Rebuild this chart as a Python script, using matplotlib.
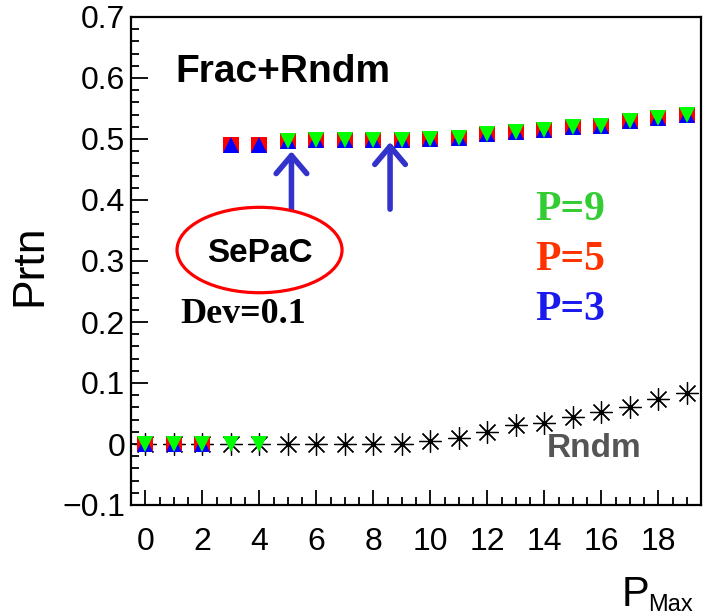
import numpy as np
import matplotlib
matplotlib.use('Agg')
import matplotlib.pyplot as plt
from matplotlib.patches import Ellipse
from matplotlib.ticker import MultipleLocator

# Datos
p_max = np.arange(0, 20)
prtn_p3 = [0.0, 0.0, 0.0, 0.490, 0.490, 0.497, 0.498, 0.498, 0.499, 0.499,
           0.500, 0.502, 0.508, 0.512, 0.515, 0.519, 0.522, 0.529, 0.535, 0.540]
prtn_p5 = [0.0, 0.0, 0.0, 0.490, 0.490, 0.497, 0.498, 0.498, 0.499, 0.499,
           0.500, 0.502, 0.508, 0.512, 0.515, 0.519, 0.522, 0.529, 0.535, 0.540]
prtn_p9 = [0.0, 0.0, 0.0, 0.0, 0.0, 0.497, 0.498, 0.498, 0.499, 0.499,
           0.500, 0.502, 0.508, 0.512, 0.515, 0.519, 0.522, 0.529, 0.535, 0.540]
prtn_rndm = [0.0, 0.0, 0.0, 0.0, 0.0, 0.0, 0.0, 0.0, 0.0, 0.0,
             0.005, 0.010, 0.020, 0.031, 0.035, 0.044, 0.052, 0.060, 0.074, 0.083]

# Flechas (x, punta, base)
arrow_x = [5.13, 8.59]
arrow_tip = [0.480, 0.495]
arrow_base = 0.385

plt.rcParams['font.family'] = ['Liberation Sans', 'DejaVu Sans']
serif = ['Liberation Serif', 'DejaVu Serif']

fig = plt.figure(figsize=(7.06, 6.16), dpi=100)
ax = fig.add_axes([131 / 706, 1 - 505 / 616, 570 / 706, 488 / 616])

ax.plot(p_max, prtn_rndm, ls='none', marker=(8, 2, 0), ms=16, mew=0.9, color='black', zorder=2)
ax.plot(p_max, prtn_p5, ls='none', marker='s', ms=12, color='#ff0000', mew=0, zorder=3)
ax.plot(p_max, prtn_p3, ls='none', marker='^', ms=11, color='#0000ff', mew=0, zorder=4)
ax.plot(p_max, prtn_p9, ls='none', marker='v', ms=12, color='#00ff00', mew=0, zorder=5)

for xa, tip in zip(arrow_x, arrow_tip):
    ax.annotate('', xy=(xa, tip), xytext=(xa, arrow_base),
                arrowprops=dict(arrowstyle='->,head_length=1.3,head_width=1.1',
                                color='#3333cc', lw=4, shrinkA=0, shrinkB=0),
                zorder=6)

ax.add_patch(Ellipse((4.01, 0.318), 5.79, 0.14, fill=False, ec='red', lw=2.3, zorder=6))

ax.text(1.04, 0.593, 'Frac+Rndm', fontsize=28, fontweight='bold', va='baseline')
ax.text(4.01, 0.298, 'SePaC', fontsize=24, fontweight='bold', ha='center', va='baseline')
ax.text(1.22, 0.198, 'Dev=0.1', fontsize=26, fontweight='bold', va='baseline', family=serif)
ax.text(13.68, 0.367, 'P=9', fontsize=30, fontweight='bold', color='#33cc33',
        va='baseline', family=serif)
ax.text(13.68, 0.285, 'P=5', fontsize=30, fontweight='bold', color='#ff3300',
        va='baseline', family=serif)
ax.text(13.68, 0.203, 'P=3', fontsize=30, fontweight='bold', color='#1a1aee',
        va='baseline', family=serif)
ax.text(14.1, -0.021, 'Rndm', fontsize=24, fontweight='bold', color='#555555', va='baseline')

ax.set_xlim(-0.5, 19.5)
ax.set_ylim(-0.1, 0.7)
ax.xaxis.set_major_locator(MultipleLocator(2))
ax.xaxis.set_minor_locator(MultipleLocator(0.5))
ax.yaxis.set_major_locator(MultipleLocator(0.1))
ax.yaxis.set_minor_locator(MultipleLocator(0.02))
ax.set_yticklabels([f'{v:.1f}'.replace('-', '\u2212') if abs(v) > 1e-9 else '0'
                    for v in ax.get_yticks()])
ax.set_xticks(np.arange(0, 20, 2))
ax.tick_params(which='both', direction='in', width=1.3, labelsize=23)
ax.tick_params(axis='x', which='major', length=11, pad=16)
ax.tick_params(axis='x', which='minor', length=6)
ax.tick_params(axis='y', which='major', length=12, pad=4)
ax.tick_params(axis='y', which='minor', length=6)
for s in ax.spines.values():
    s.set_linewidth(1.6)

fig.text(30 / 706, 1 - 265 / 616, 'Prtn', fontsize=32, rotation=90, ha='center', va='center')
fig.text(622 / 706, 1 - 606 / 616, 'P', fontsize=30, va='baseline')
fig.text(648 / 706, 1 - 611 / 616, 'Max', fontsize=17, va='baseline')

fig.savefig('out.png', dpi=100)
